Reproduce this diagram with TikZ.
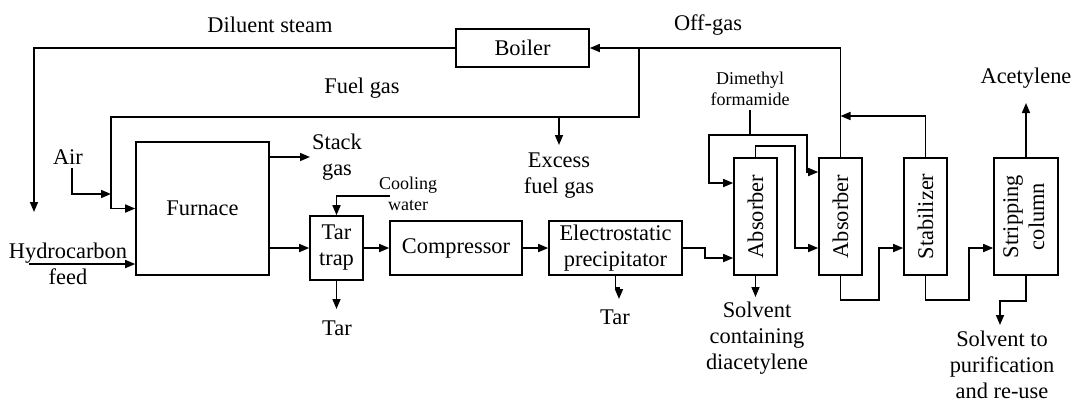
\documentclass[tikz,border=0pt]{standalone}
\usepackage{fontspec}
\setmainfont{Liberation Serif}
\usepackage{graphicx}
\usetikzlibrary{positioning,arrows.meta}
\tikzset{
  flowarrow/.style={-{Triangle[length=5pt,width=4pt]}, line width=0.8pt},
  pipe/.style={line width=0.8pt},
  unitbox/.style={draw, line width=0.8pt, inner sep=0pt, align=center},
  colbox/.style={unitbox, minimum width=21.5pt, minimum height=58.5pt},
  tag/.style={inner sep=0pt, align=center},
  smalltag/.style={tag, font=\fontsize{9}{10.5}\selectfont}
}

\begin{document}
\begin{tikzpicture}[x=0.5pt, y=-0.5pt, every node/.style={font=\fontsize{11.2}{13}\selectfont}]
  \useasboundingbox (0,0) rectangle (1071,403);
  % process units
  \node[unitbox, minimum width=66.5pt, minimum height=19pt] (boiler) at (522.5,48) {Boiler};
  \node[unitbox, minimum width=66.5pt, minimum height=66.5pt] (furnace) at (202.5,208.5) {Furnace};
  \node[unitbox, minimum width=26.5pt, minimum height=32pt] (tartrap) at (336.5,248) {Tar\\trap};
  \node[unitbox, minimum width=66pt, minimum height=27pt] (compressor) at (456,248) {Compressor};
  \node[unitbox, minimum width=66.5pt, minimum height=27pt] (precip) at (615.5,248) {Electrostatic\\precipitator};
  \node[colbox] (abs1) at (755.5,216.5) {\rotatebox{90}{Absorber}};
  \node[colbox] (abs2) at (840.5,216.5) {\rotatebox{90}{Absorber}};
  \node[colbox] (stab) at (925.5,216.5) {\rotatebox{90}{Stabilizer}};
  \node[colbox, minimum width=32pt] (strip) at (1026,216.5) {\rotatebox{90}{\begin{tabular}{@{}c@{}}Stripping\\column\end{tabular}}};

  % stream labels
  \node[tag] (diluent) at (270,25) {Diluent steam};
  \node[tag] (fuelgas) at (362,88) {Fuel gas};
  \node[tag] (offgas) at (708,25) {Off-gas};
  \node[tag] (air) at (68,157) {Air};
  \node[tag] (hcfeed) at (68,264) {Hydrocarbon\\feed};
  \node[tag] (stack) at (337,157) {Stack\\gas};
  \node[smalltag] (cooling) at (408,194) {Cooling\\water};
  \node[tag] (tar1) at (337,328) {Tar};
  \node[tag] (tar2) at (615,317) {Tar};
  \node[tag] (excess) at (559,176) {Excess\\fuel gas};
  \node[smalltag] (dmf) at (750,89) {Dimethyl\\formamide};
  \node[tag] (acetylene) at (1026,78) {Acetylene};
  \node[tag] (diacet) at (757,338) {Solvent\\containing\\diacetylene};
  \node[tag] (reuse) at (1002,365) {Solvent to\\purification\\and re-use};

  % connector points
  \coordinate (feedY) at (0,248);
  \coordinate (dsEnd) at (34,212);
  \coordinate (fgSplit) at (639,48);
  \coordinate (fgCorner) at (111,117);
  \coordinate (efSplit) at (559,117);
  \coordinate (efEnd) at (559,145);
  \coordinate (airStart) at (72,168);
  \coordinate (airEnd) at (111,194);
  \coordinate (hcStart) at (29,264);
  \coordinate (stackEnd) at (310,157);
  \coordinate (cwStart) at (390,196);
  \coordinate (tarEnd1) at (336.5,309);
  \coordinate (tarEnd2) at (619,299);
  \coordinate (epTurn) at (705,258);
  \coordinate (dmfTop) at (750,110);
  \coordinate (dmfSplit) at (750,135);
  \coordinate (dmfL) at (709,183);
  \coordinate (dmfR) at (807,172);
  \coordinate (a1Loop) at (795,146);
  \coordinate (a1End) at (755.5,297);
  \coordinate (a2Turn) at (879,300);
  \coordinate (stTurn) at (969,300);
  \coordinate (ogJoin) at (840.5,116);
  \coordinate (acEnd) at (1026,103);
  \coordinate (srEnd) at (1000,325);

  % streams
  \draw[flowarrow] (boiler.west) -| (dsEnd);
  \draw[flowarrow] (abs2.north) |- (boiler.east);
  \draw[flowarrow] (fgSplit) |- (fgCorner) |- (furnace.west);
  \draw[flowarrow] (efSplit) -- (efEnd);
  \draw[flowarrow] (airStart) |- (airEnd);
  \draw[flowarrow] (hcStart) -- (hcStart -| furnace.west);
  \draw[flowarrow] (furnace.east |- stackEnd) -- (stackEnd);
  \draw[flowarrow] (furnace.east |- tartrap.west) -- (tartrap.west);
  \draw[flowarrow] (cwStart) -| (tartrap.north);
  \draw[flowarrow] (tartrap.south) -- (tarEnd1);
  \draw[flowarrow] (tartrap.east) -- (compressor.west);
  \draw[flowarrow] (compressor.east) -- (precip.west);
  \draw[flowarrow] (precip.south) -- ++(0,12) -| (tarEnd2);
  \draw[flowarrow] (precip.east) -| (epTurn) -- (epTurn -| abs1.west);
  \draw[flowarrow] (dmfTop) -- (dmfSplit) -| (dmfL) -- (dmfL -| abs1.west);
  \draw[flowarrow] (dmfSplit) -| (dmfR) -- (dmfR -| abs2.west);
  \draw[flowarrow] (abs1.north) |- (a1Loop) |- (abs2.west |- feedY);
  \draw[flowarrow] (abs1.south) -- (a1End);
  \draw[flowarrow] (abs2.south) |- (a2Turn) |- (stab.west |- feedY);
  \draw[flowarrow] (stab.north) |- (ogJoin);
  \draw[flowarrow] (stab.south) |- (stTurn) |- (strip.west |- feedY);
  \draw[flowarrow] (strip.north) -- (acEnd);
  \draw[flowarrow] (strip.south) -- ++(0,25) -| (srEnd);
\end{tikzpicture}
\end{document}
